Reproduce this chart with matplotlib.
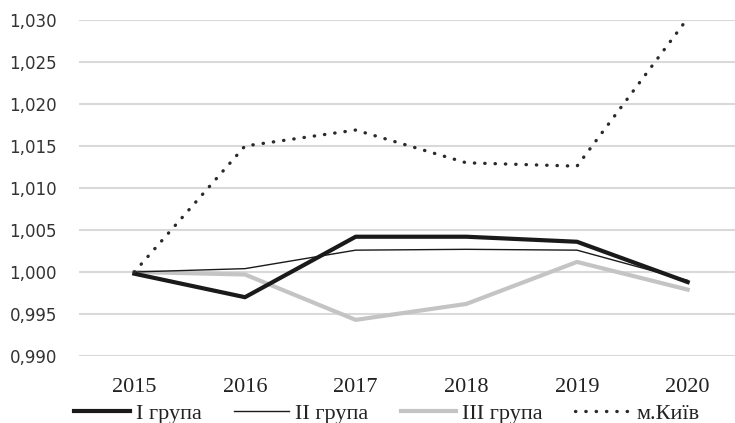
import matplotlib
matplotlib.use("Agg")
import matplotlib.pyplot as plt
from matplotlib.ticker import FuncFormatter

years = ["2015", "2016", "2017", "2018", "2019", "2020"]
group1 = [0.9998, 0.9970, 1.0042, 1.0042, 1.0036, 0.9988]
group2 = [1.0000, 1.0004, 1.0026, 1.0027, 1.0026, 0.9990]
group3 = [1.0000, 0.9997, 0.9943, 0.9962, 1.0012, 0.9979]
kyiv = [1.0000, 1.0150, 1.0169, 1.0130, 1.0126, 1.0302]
labels = ["І група", "ІІ група", "ІІІ група", "м.Київ"]
yticks = [0.990, 0.995, 1.000, 1.005, 1.010, 1.015, 1.020, 1.025, 1.030]

fig = plt.figure(figsize=(7.35, 4.23), dpi=100)
ax = fig.add_axes([79/735, 1-356/423, 664/735, (356-20)/423])
x = list(range(len(years)))

ax.plot(x, group1, color="#1a1a1a", lw=3.0, label=labels[0], zorder=4)
ax.plot(x, group2, color="#1a1a1a", lw=1.0, label=labels[1], zorder=5)
ax.plot(x, group3, color="#c4c4c4", lw=3.0, label=labels[2], zorder=3)
ax.plot(x, kyiv, color="#2a2a2a", lw=2.4, linestyle=(0, (0.1, 3.0)),
        dash_capstyle="round", label=labels[3], zorder=6, clip_on=False)

ax.set_xlim(-0.5, 5.5)
ax.set_ylim(0.990, 1.030)
ax.set_yticks(yticks)
ax.yaxis.set_major_formatter(FuncFormatter(lambda v, p: f"{v:.3f}".replace(".", ",")))
ax.set_xticks(x)
ax.set_xticklabels(years, family="Liberation Serif", fontsize=16)
for lab in ax.get_yticklabels():
    lab.set_family("DejaVu Sans")
    lab.set_fontsize(12)
    lab.set_color("#333333")
for lab in ax.get_xticklabels():
    lab.set_color("#222222")
ax.tick_params(axis="y", length=0, pad=16)
ax.tick_params(axis="x", length=0, pad=16)
ax.grid(axis="y", color="#d9d9d9", lw=1.5)
ax.set_axisbelow(True)
for s in ax.spines.values():
    s.set_visible(False)

leg = fig.legend(loc="lower left", bbox_to_anchor=(72/735, -0.008), ncol=4, frameon=False,
                 prop={"family": "Liberation Serif", "size": 16},
                 handlelength=2.5, handletextpad=0.27, columnspacing=1.45,
                 borderaxespad=0, borderpad=0.1)
for t in leg.get_texts():
    t.set_color("#222222")

fig.savefig("out.png", dpi=100)
